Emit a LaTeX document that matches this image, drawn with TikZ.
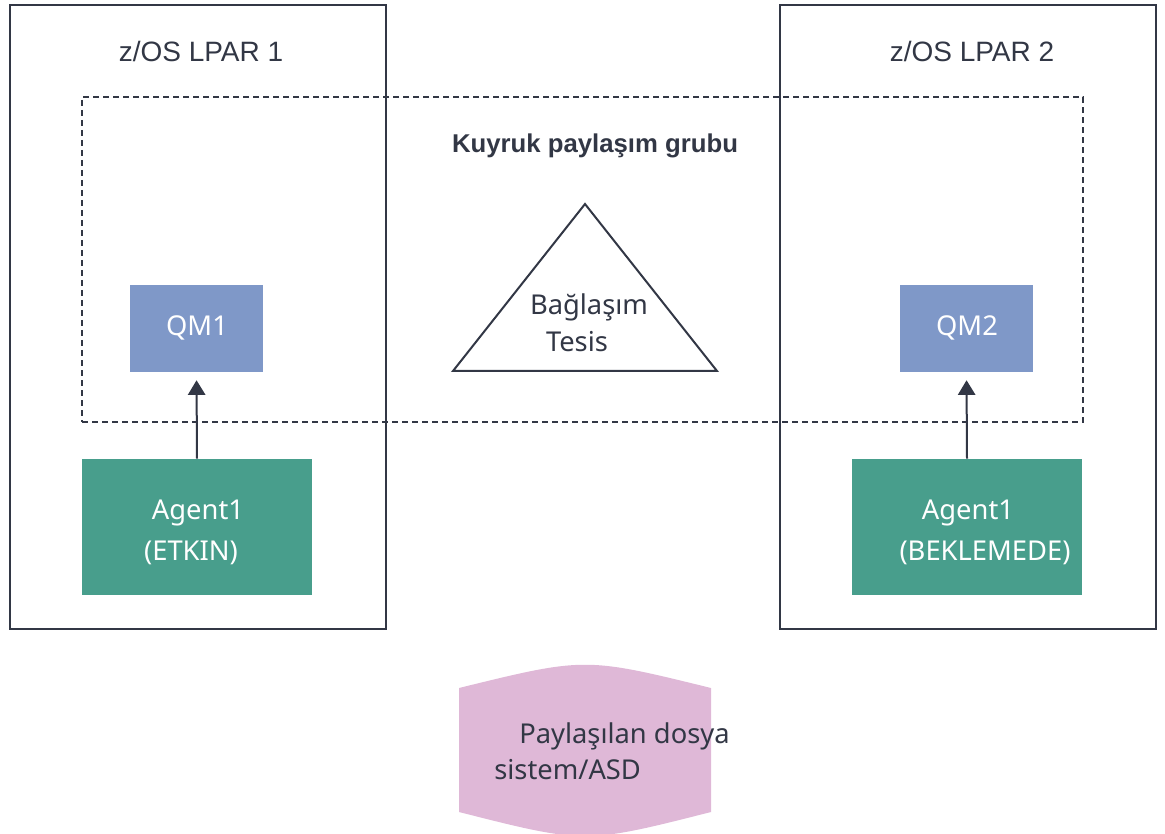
\documentclass[tikz,border=0pt]{standalone}
\usepackage{fontspec}
\setmainfont{Liberation Sans}
\newfontfamily\bodyfont{Noto Sans}
\usetikzlibrary{arrows.meta}
\definecolor{ink}{HTML}{323745}
\definecolor{qmblue}{HTML}{7F98C8}
\definecolor{agentgreen}{HTML}{489E8C}
\definecolor{fspink}{HTML}{DFB8D7}
\tikzset{
  lpar/.style={draw=ink, line width=1.5pt, minimum width=282pt, minimum height=468pt, inner sep=0pt},
  group/.style={draw=ink, line width=1.5pt, dash pattern=on 4.5pt off 3pt, minimum width=750.75pt, minimum height=243.75pt, inner sep=0pt},
  qm/.style={fill=qmblue, minimum width=99.75pt, minimum height=65.25pt, inner sep=0pt},
  agent/.style={fill=agentgreen, minimum width=172.5pt, minimum height=102pt, inner sep=0pt},
  whitetext/.style={text=white, inner sep=0pt, anchor=base, font=\bodyfont\fontsize{20.5}{24}\selectfont},
  bodytext/.style={text=ink, inner sep=0pt, anchor=base, font=\bodyfont\fontsize{20.5}{24}\selectfont},
  title/.style={text=ink, inner sep=0pt, anchor=base, font=\fontsize{21}{25}\selectfont},
  conn/.style={draw=ink, line width=1.5pt, -{Triangle[width=13pt,length=11pt]}, shorten >=6pt}
}
\begin{document}
\begin{tikzpicture}[x=0.75pt, y=-0.75pt]
\useasboundingbox (0,0) rectangle (1165,834);
\clip (0,0) rectangle (1165,834);
% LPAR boxes
\node[lpar] (lpar1) at (198,317) {};
\node[lpar] (lpar2) at (968,317) {};
\node[title] (t1) at (201,62) {z/OS LPAR 1};
\node[title] (t2) at (972,62) {z/OS LPAR 2};
% queue sharing group
\node[group] (qsg) at (582.5,259.5) {};
\node[title, font=\bfseries\fontsize{19.3}{23}\selectfont] (qsgt) at (595,153) {Kuyruk paylaşım grubu};
% coupling facility
\coordinate (tA) at (585,204);
\coordinate (tB) at (453,371);
\coordinate (tC) at (717,371);
\draw[draw=ink, line width=1.5pt, line join=miter] (tA) -- (tB) -- (tC) -- cycle;
\node[bodytext] (cf1) at (589,315) {Bağlaşım};
\node[bodytext] (cf2) at (577,352) {Tesis};
% queue managers
\node[qm] (qm1) at (196.5,328.5) {};
\node[qm] (qm2) at (966.5,328.5) {};
\node[whitetext] (qm1t) at (197,336) {QM1};
\node[whitetext] (qm2t) at (967,336) {QM2};
% agents
\node[agent] (ag1) at (197,527) {};
\node[agent] (ag2) at (967,527) {};
\node[whitetext] (ag1a) at (198,519) {Agent1};
\node[whitetext] (ag1b) at (191,561) {(ETKIN)};
\node[whitetext] (ag2a) at (968,519) {Agent1};
\node[whitetext] (ag2b) at (985,561) {(BEKLEMEDE)};
% connectors
\draw[conn] (ag1.north) -- (qm1.south);
\draw[conn] (ag2.north) -- (qm2.south);
% shared file system
\coordinate (fsTL) at (459,688);
\coordinate (fsTR) at (711,688);
\coordinate (fsBR) at (711,812);
\coordinate (fsBL) at (459,812);
\fill[fspink] (fsTL) .. controls (585,657) .. (fsTR) -- (fsBR) .. controls (585,844) .. (fsBL) -- cycle;
\node[bodytext, anchor=base west] (fs1) at (519,743) {Paylaşılan dosya};
\node[bodytext, anchor=base west] (fs2) at (494,779) {sistem/ASD};
\end{tikzpicture}
\end{document}
